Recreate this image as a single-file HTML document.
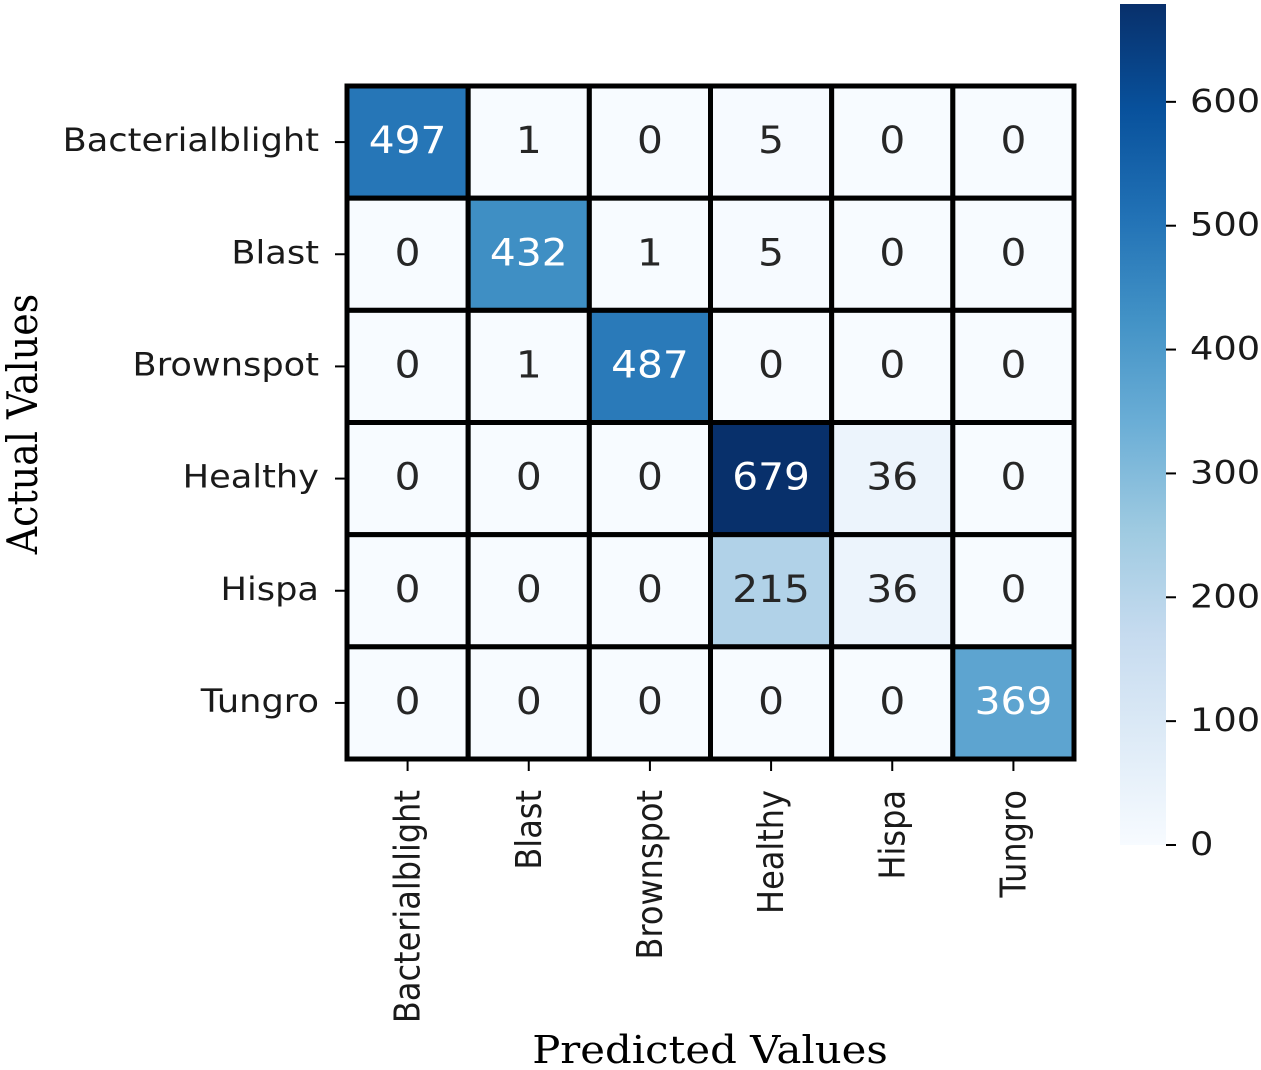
<!DOCTYPE html>
<html><head><meta charset="utf-8"><style>
html,body{margin:0;padding:0;background:#fff;width:1261px;height:1070px;overflow:hidden}
svg text{font-family:"DejaVu Sans","Liberation Sans",sans-serif}
</style></head><body>
<svg id="chart" width="1261" height="1070" xmlns="http://www.w3.org/2000/svg">
<defs><linearGradient id="cbg" x1="0" y1="1" x2="0" y2="0"></linearGradient></defs>
<g id="cells"></g>
<g id="xt"></g>
<g id="yt"></g>
<g id="cb"></g>
<text transform="translate(710,1063) scale(1.1,1)" text-anchor="middle" style="font-family:'DejaVu Serif','Liberation Serif',serif;font-size:38px">Predicted Values</text>
<text transform="translate(37,424) scale(1.1,1) rotate(-90)" text-anchor="middle" style="font-family:'DejaVu Serif','Liberation Serif',serif;font-size:38px">Actual Values</text>
</svg>
<script>
const categories = ["Bacterialblight","Blast","Brownspot","Healthy","Hispa","Tungro"];
const row0 = [497,1,0,5,0,0];
const row1 = [0,432,1,5,0,0];
const row2 = [0,1,487,0,0,0];
const row3 = [0,0,0,679,36,0];
const row4 = [0,0,0,215,36,0];
const row5 = [0,0,0,0,0,369];
const matrix = [row0,row1,row2,row3,row4,row5];
const cbTicks = [0,100,200,300,400,500,600];
const vmin = 0, vmax = 679;

const NS="http://www.w3.org/2000/svg";
const L=347,T=86,R=1074,B=759;
const cw=(R-L)/6, ch=(B-T)/6;
const SX=1.1;
const xPos=i=>L+i*cw, yPos=i=>T+i*ch;
const stops=["#f7fbff","#deebf7","#c6dbef","#9ecae1","#6baed6","#4292c6","#2171b5","#08519c","#08306b"];
function hex(h){return [1,3,5].map(i=>parseInt(h.substr(i,2),16));}
function color(v){let t=Math.max(0,Math.min(1,(v-vmin)/(vmax-vmin)))*8;let i=Math.min(7,Math.floor(t));let f=t-i;const a=hex(stops[i]),b=hex(stops[i+1]);const c=a.map((x,k)=>Math.round(x+(b[k]-x)*f));return {s:`rgb(${c.join(',')})`,c};}
function mk(tag,attrs,parent){const e=document.createElementNS(NS,tag);for(const k in attrs)e.setAttribute(k,attrs[k]);parent.appendChild(e);return e;}
const cells=document.getElementById('cells');
matrix.forEach((row,r)=>row.forEach((v,c)=>{
  const col=color(v);
  const rect=mk('rect',{x:xPos(c),y:yPos(r),width:cw,height:ch,fill:col.s,stroke:'#000','stroke-width':5},cells);
  
  
  const lum=(0.299*col.c[0]+0.587*col.c[1]+0.114*col.c[2])/255;
  const t=mk('text',{transform:`translate(${xPos(c)+cw/2},${yPos(r)+ch/2+11}) scale(${SX},1)`,'text-anchor':'middle','font-size':37,fill:lum<0.6?'#fff':'#262626'},cells);
  t.textContent=v;
  
  
}));
mk('rect',{x:L,y:T,width:R-L,height:B-T,fill:'none',stroke:'#000','stroke-width':5},cells);
const xt=document.getElementById('xt'),yt=document.getElementById('yt');
categories.forEach((n,i)=>{
  const cx=xPos(i)+cw/2;
  mk('line',{x1:cx,y1:B+2,x2:cx,y2:B+12,stroke:'#000','stroke-width':2},xt);
  const t=mk('text',{transform:`translate(${cx+12},${B+31}) scale(${SX},1) rotate(-90)`,'text-anchor':'end','font-size':32,fill:'#1a1a1a'},xt);
  t.textContent=n;
  
  
  const cy=yPos(i)+ch/2;
  mk('line',{x1:L-12,y1:cy,x2:L-2,y2:cy,stroke:'#000','stroke-width':2},yt);
  const u=mk('text',{transform:`translate(${L-28},${cy+9}) scale(${SX},1)`,'text-anchor':'end','font-size':32,fill:'#1a1a1a'},yt);
  u.textContent=n;
  
  
});
const g=document.getElementById('cbg');
stops.forEach((s,i)=>mk('stop',{offset:(i/8),'stop-color':s},g));
const cb=document.getElementById('cb');
const CBL=1120,CBW=46,CBT=4,CBB=845;
const cy=v=>CBB-(v-vmin)/(vmax-vmin)*(CBB-CBT);
mk('rect',{x:CBL,y:CBT,width:CBW,height:CBB-CBT,fill:'url(#cbg)'},cb);
cbTicks.forEach(v=>{
  const y=cy(v);
  mk('line',{x1:CBL+CBW,y1:y,x2:CBL+CBW+10,y2:y,stroke:'#000','stroke-width':2},cb);
  const t=mk('text',{transform:`translate(${CBL+CBW+24},${y+10}) scale(1.15,1)`,'font-size':32,fill:'#1a1a1a'},cb);
  t.textContent=v;
  
  
});
</script>
</body></html>
